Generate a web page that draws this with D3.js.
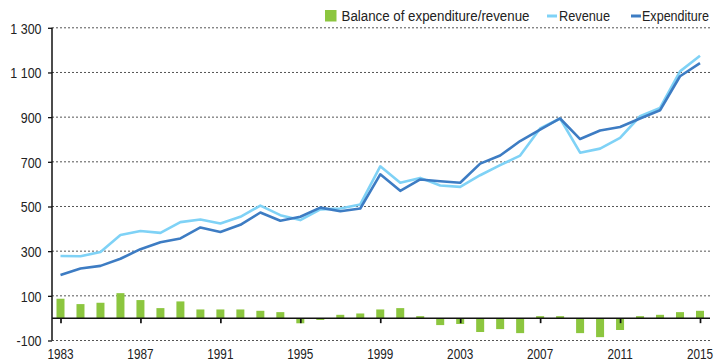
<!DOCTYPE html>
<html>
<head>
<meta charset="utf-8">
<script src="https://cdn.jsdelivr.net/npm/d3@7"></script>
<style>
  html, body { margin: 0; padding: 0; background: #fff; }
  svg text { font-family: "Liberation Sans", Arial, sans-serif; fill: #222; }
</style>
</head>
<body>
<svg id="chart" width="717" height="361"></svg>
<script>
// Years on the x axis
const years = d3.range(1983, 2016);

// Revenue, expenditure and their balance per year
const revenue = [278, 277, 296, 372, 390, 382, 430, 442, 424, 454, 504, 461, 439, 487, 491, 509,
                 680, 606, 628, 594, 588, 640, 685, 728, 849, 894, 741, 759, 807, 904, 941, 1105, 1175];
const expenditure = [193, 222, 234, 266, 309, 340, 357, 406, 386, 418, 473, 436, 454, 495, 479, 491,
                     644, 570, 621, 613, 606, 692, 728, 793, 844, 894, 802, 840, 856, 894, 931, 1083, 1142];
const balance = [87, 63, 69, 112, 81, 45, 75, 39, 39, 39, 33, 27, -23, -8, 15, 21,
                 39, 45, 9, -31, -26, -62, -49, -67, 9, 9, -67, -85, -53, 9, 15, 27, 33];

const yTicks = [-100, 100, 300, 500, 700, 900, 1100, 1300];
const xTicks = [1983, 1987, 1991, 1995, 1999, 2003, 2007, 2011, 2015];

const legendItems = ["Balance of expenditure/revenue", "Revenue", "Expenditure"];

const colors = { bar: "#8cc63f", revenue: "#7fd2f6", expenditure: "#3d7cc3" };

const svg = d3.select("#chart");

const x = d3.scaleLinear().domain([1983, 2015]).range([60.5, 700]);
const y = d3.scaleLinear().domain([-100, 1300]).range([340.5, 27.8]);
const plotLeft = 52, plotRight = 710;

const fmtY = d => Math.abs(d) >= 1000 ? d3.format(",")(d).replace(/,/g, " ") : String(d);

// Dotted gridlines
svg.append("g")
  .selectAll("line")
  .data(yTicks)
  .join("line")
  .attr("x1", plotLeft).attr("x2", plotRight)
  .attr("y1", d => y(d)).attr("y2", d => y(d))
  .attr("stroke", "#555").attr("stroke-width", 1).attr("stroke-dasharray", "2,2");

// Balance bars
const barW = 8;
svg.append("g")
  .selectAll("rect")
  .data(years.map((yr, i) => ({ yr, v: balance[i] })))
  .join("rect")
  .attr("x", d => x(d.yr) - barW / 2)
  .attr("width", barW)
  .attr("y", d => y(Math.max(0, d.v)))
  .attr("height", d => Math.abs(y(d.v) - y(0)))
  .attr("fill", colors.bar);

// Y axis ticks and labels
const yAxis = d3.axisLeft(y).tickValues(yTicks).tickSize(4).tickFormat(fmtY);
const gy = svg.append("g").attr("transform", `translate(${plotLeft},0)`).call(yAxis);
gy.select(".domain").remove();
gy.selectAll(".tick line").attr("stroke", "#111").attr("stroke-width", 1.3);
gy.selectAll(".tick text")
  .attr("x", null).attr("dy", null)
  .attr("font-size", 14.5).attr("fill", "#222")
  .attr("text-anchor", "end")
  .attr("transform", "translate(-10.5,5.2) scale(0.86,1)");
svg.append("line")
  .attr("x1", plotLeft).attr("x2", plotLeft)
  .attr("y1", y(1300)).attr("y2", y(-100))
  .attr("stroke", "#111").attr("stroke-width", 1.5);

// X axis along zero
const xAxis = d3.axisBottom(x).tickValues(xTicks).tickSize(5).tickFormat(d3.format("d"));
const gx = svg.append("g").attr("transform", `translate(0,${y(0)})`).call(xAxis);
gx.select(".domain").remove();
gx.selectAll(".tick line").attr("stroke", "#111").attr("stroke-width", 1.7);
gx.selectAll(".tick text").remove();
svg.append("line")
  .attr("x1", plotLeft).attr("x2", plotRight)
  .attr("y1", y(0)).attr("y2", y(0))
  .attr("stroke", "#111").attr("stroke-width", 1.5);

// Year labels below the plot
svg.append("g")
  .selectAll("text")
  .data(xTicks)
  .join("text")
  .attr("transform", d => `translate(${x(d)},358.5) scale(0.76,1)`)
  .attr("text-anchor", "middle").attr("font-size", 15.5)
  .text(d => d3.format("d")(d));

// Lines
const line = arr => d3.line().x((d, i) => x(years[i])).y(d => y(d))(arr);
svg.append("path").attr("d", line(revenue))
  .attr("fill", "none").attr("stroke", colors.revenue).attr("stroke-width", 2.6)
  .attr("stroke-linejoin", "round");
svg.append("path").attr("d", line(expenditure))
  .attr("fill", "none").attr("stroke", colors.expenditure).attr("stroke-width", 2.6)
  .attr("stroke-linejoin", "round");

// Legend
const lg = svg.append("g");
lg.append("rect").attr("x", 325).attr("y", 10).attr("width", 11.5).attr("height", 11.5).attr("fill", colors.bar);
lg.append("text").attr("x", 341.5).attr("y", 21.3).attr("font-size", 15.5)
  .attr("textLength", 188).attr("lengthAdjust", "spacingAndGlyphs").text(legendItems[0]);
lg.append("line").attr("x1", 547).attr("x2", 557).attr("y1", 16).attr("y2", 16)
  .attr("stroke", colors.revenue).attr("stroke-width", 3);
lg.append("text").attr("x", 559).attr("y", 21.3).attr("font-size", 15.5)
  .attr("textLength", 51).attr("lengthAdjust", "spacingAndGlyphs").text(legendItems[1]);
lg.append("line").attr("x1", 631).attr("x2", 641).attr("y1", 16).attr("y2", 16)
  .attr("stroke", colors.expenditure).attr("stroke-width", 3);
lg.append("text").attr("x", 642).attr("y", 21.3).attr("font-size", 15.5)
  .attr("textLength", 67).attr("lengthAdjust", "spacingAndGlyphs").text(legendItems[2]);
</script>
</body>
</html>
